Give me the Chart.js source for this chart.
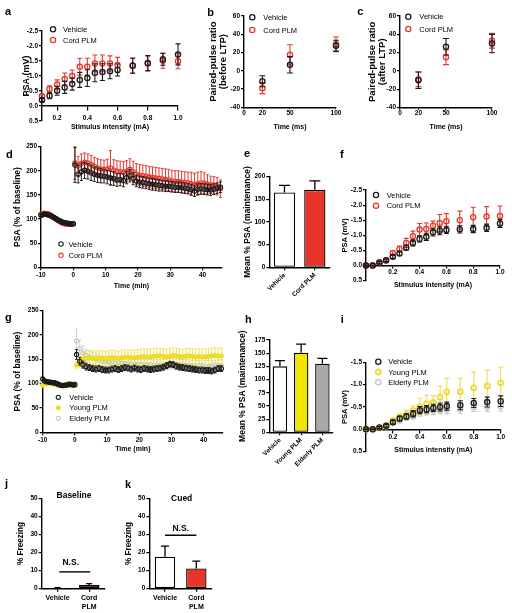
<!DOCTYPE html>
<html>
<head>
<meta charset="utf-8">
<script src="https://cdn.jsdelivr.net/npm/chart.js@4.4.1/dist/chart.umd.min.js"></script>
<style>
  html, body { margin: 0; padding: 0; background: #fff; }
  #stage { position: relative; width: 512px; height: 613px; overflow: hidden; }
  #stage canvas { position: absolute; left: 0; top: 0; }
  .t { position: absolute; font-family: "Liberation Sans", Arial, sans-serif; font-weight: bold; color: #000; white-space: nowrap; line-height: 1; }
</style>
</head>
<body>
<div id="stage"></div>
<script>
// ---- data ----
// a: input/output before treatment
const aX = [0.1, 0.15, 0.2, 0.25, 0.3, 0.35, 0.4, 0.45, 0.5, 0.55, 0.6, 0.7, 0.8, 0.9, 1.0];
const aVehicle = [-0.2, -0.34, -0.51, -0.62, -0.73, -0.87, -0.93, -1.11, -1.13, -1.16, -1.2, -1.34, -1.43, -1.56, -1.72];
const aVehicleErr = [0.05, 0.1, 0.15, 0.2, 0.2, 0.25, 0.28, 0.3, 0.28, 0.25, 0.2, 0.25, 0.25, 0.2, 0.35];
const aCord = [-0.33, -0.57, -0.72, -0.9, -1.0, -1.31, -1.31, -1.42, -1.42, -1.42, -1.37, -1.35, -1.42, -1.51, -1.49];
const aCordErr = [0.05, 0.1, 0.15, 0.2, 0.2, 0.28, 0.28, 0.28, 0.28, 0.25, 0.25, 0.25, 0.25, 0.25, 0.25];

// b, c: paired-pulse ratio
const ppTime = [20, 50, 100];
const bVehicle = [-11.5, 6.5, 27.5];
const bVehicleErr = [6, 9, 6];
const bCord = [-19, 17.5, 29];
const bCordErr = [6, 11, 8];
const cVehicle = [-10, 26.5, 30];
const cVehicleErr = [9, 9, 10];
const cCord = [-9, 15, 33];
const cCordErr = [8, 8, 8];

// d, g: LTP time course
const baseTime = [-10, -9.5, -9, -8.5, -8, -7.5, -7, -6.5, -6, -5.5, -5, -4.5, -4, -3.5, -3, -2.5, -2, -1.5, -1, -0.5, 0];
const postTime = [0.5, 1.5, 2.5, 3.5, 4.5, 5.5, 6.5, 7.5, 8.5, 9.5, 10.5, 11.5, 12.5, 13.5, 14.5, 15.5, 16.5, 17.5, 18.5, 19.5,
  20.5, 21.5, 22.5, 23.5, 24.5, 25.5, 26.5, 27.5, 28.5, 29.5, 30.5, 31.5, 32.5, 33.5, 34.5, 35.5, 36.5, 37.5, 38.5, 39.5,
  40.5, 41.5, 42.5, 43.5, 44.5, 45.5];

const dVehicleBase = [108, 109, 110, 110, 109, 108, 107, 105, 103, 101, 99, 97, 96, 94, 93, 92, 92, 91, 90, 90, 90];
const dCordBase = [110, 111, 112, 111, 111, 110, 108, 106, 103, 101, 98, 96, 94, 92, 91, 90, 89, 89, 89, 90, 91];
const dBaseErr = [3, 3, 3, 3, 3, 3, 3, 3, 3, 3, 3, 3, 3, 3, 3, 3, 3, 3, 3, 3, 3];
const dVehiclePost = [212, 193, 198, 201, 199, 196, 193, 191, 190, 189, 187, 185, 184, 181, 182, 180, 186, 190, 184, 179,
  177, 176, 175, 173, 172, 171, 170, 169, 168, 168, 167, 166, 166, 165, 164, 163, 161, 158, 162, 163,
  162, 161, 160, 162, 164, 166];
const dVehiclePostErr = [36, 18, 18, 17, 16, 16, 15, 15, 15, 14, 14, 14, 14, 13, 13, 13, 13, 13, 13, 12,
  12, 12, 12, 12, 12, 12, 12, 11, 11, 11, 11, 11, 11, 11, 11, 11, 11, 11, 11, 11,
  11, 11, 11, 11, 11, 11];
const dCordPost = [216, 210, 215, 218, 216, 213, 209, 206, 204, 203, 204, 206, 201, 199, 198, 197, 199, 203, 198, 193,
  191, 190, 189, 187, 186, 185, 184, 183, 182, 181, 179, 178, 178, 177, 176, 175, 173, 171, 173, 175,
  174, 172, 171, 170, 168, 163];
const dCordPostErr = [34, 20, 20, 19, 19, 19, 19, 19, 19, 19, 20, 36, 22, 22, 22, 22, 22, 22, 22, 22,
  22, 22, 22, 22, 22, 22, 22, 22, 22, 22, 22, 22, 22, 22, 22, 22, 24, 24, 24, 24,
  22, 20, 18, 18, 18, 18];

const gVehicleBase = [110, 106, 104, 104, 103, 103, 102, 102, 101, 100, 98, 97, 96, 96, 97, 97, 98, 99, 98, 97, 98];
const gYoungBase = [97, 101, 102, 101, 100, 100, 100, 99, 99, 98, 98, 97, 97, 96, 97, 98, 99, 99, 98, 97, 96];
const gElderlyBase = [104, 104, 103, 103, 102, 102, 101, 100, 99, 98, 98, 97, 97, 97, 98, 98, 99, 98, 98, 98, 99];
const gVehicleBaseErr = [3, 3, 3, 3, 3, 3, 3, 3, 3, 3, 3, 3, 3, 3, 3, 3, 3, 3, 3, 3, 3];
const gYoungBaseErr = [4, 4, 4, 4, 4, 4, 4, 4, 4, 4, 4, 4, 4, 4, 4, 4, 4, 4, 4, 4, 4];
const gElderlyBaseErr = [5, 5, 5, 5, 5, 5, 5, 5, 5, 5, 5, 5, 5, 5, 5, 5, 5, 5, 5, 5, 5];
const gVehiclePost = [160, 146, 139, 135, 133, 131, 130, 131, 129, 128, 128, 130, 131, 129, 131, 133, 132, 130, 132, 130,
  129, 131, 130, 129, 130, 131, 132, 134, 137, 140, 139, 136, 134, 133, 132, 131, 130, 129, 128, 128,
  127, 127, 126, 128, 131, 131];
const gVehiclePostErr = [10, 8, 7, 7, 6, 6, 6, 6, 6, 6, 6, 6, 6, 6, 6, 6, 6, 6, 6, 6,
  6, 6, 6, 6, 6, 6, 6, 6, 6, 6, 6, 6, 6, 6, 6, 6, 6, 6, 6, 6,
  6, 6, 6, 6, 6, 6];
const gYoungPost = [138, 145, 150, 152, 152, 153, 152, 153, 152, 152, 153, 154, 153, 152, 153, 154, 154, 153, 153, 154,
  155, 156, 155, 155, 156, 157, 157, 156, 155, 156, 158, 157, 156, 155, 156, 157, 156, 155, 156, 155,
  155, 156, 157, 158, 157, 157];
const gYoungPostErr = [8, 12, 14, 15, 15, 15, 15, 15, 15, 15, 15, 15, 15, 15, 16, 16, 16, 16, 16, 16,
  16, 16, 16, 16, 16, 16, 16, 16, 16, 16, 16, 16, 16, 16, 16, 16, 16, 16, 16, 16,
  16, 16, 16, 16, 16, 16];
const gElderlyPost = [188, 172, 163, 158, 155, 152, 150, 148, 146, 145, 144, 144, 143, 143, 142, 142, 141, 141, 140, 140,
  140, 139, 139, 139, 138, 138, 138, 139, 140, 141, 141, 140, 139, 139, 138, 138, 137, 137, 137, 137,
  136, 136, 136, 137, 138, 138];
const gElderlyPostErr = [24, 18, 15, 13, 12, 12, 11, 11, 11, 11, 11, 11, 11, 11, 11, 11, 11, 11, 11, 11,
  11, 11, 11, 11, 11, 11, 11, 11, 11, 11, 11, 11, 11, 11, 11, 11, 11, 11, 11, 11,
  11, 11, 11, 11, 11, 11];

// e, h: maintenance bars
const eLabels = ['Vehicle', 'Cord PLM'];
const eMeans = [165, 171];
const eErr = [16, 20];
const hLabels = ['Vehicle', 'Young PLM', 'Elderly PLM'];
const hMeans = [125, 151, 130];
const hErr = [11, 16, 10];

// f, i: input/output after treatment
const ioX = [0, 0.05, 0.1, 0.15, 0.2, 0.25, 0.3, 0.35, 0.4, 0.45, 0.5, 0.55, 0.6, 0.7, 0.8, 0.9, 1.0];
const fVehicle = [0, 0, -0.1, -0.18, -0.29, -0.4, -0.59, -0.75, -0.88, -0.95, -1.1, -1.15, -1.18, -1.2, -1.21, -1.25, -1.39];
const fVehicleErr = [0.02, 0.02, 0.03, 0.04, 0.05, 0.06, 0.08, 0.1, 0.1, 0.12, 0.12, 0.13, 0.12, 0.12, 0.12, 0.12, 0.13];
const fCord = [0, 0, -0.1, -0.17, -0.42, -0.55, -0.75, -0.97, -1.19, -1.21, -1.32, -1.41, -1.47, -1.5, -1.6, -1.62, -1.64];
const fCordErr = [0.02, 0.02, 0.03, 0.04, 0.08, 0.1, 0.15, 0.17, 0.2, 0.2, 0.15, 0.28, 0.25, 0.3, 0.33, 0.33, 0.33];
const iVehicle = [0, 0, -0.04, -0.08, -0.16, -0.24, -0.29, -0.35, -0.43, -0.45, -0.48, -0.5, -0.52, -0.54, -0.59, -0.61, -0.63];
const iVehicleErr = [0.01, 0.01, 0.02, 0.03, 0.04, 0.05, 0.06, 0.07, 0.08, 0.08, 0.08, 0.09, 0.09, 0.1, 0.1, 0.11, 0.12];
const iYoung = [0, 0, -0.03, -0.08, -0.2, -0.27, -0.33, -0.42, -0.5, -0.57, -0.6, -0.72, -0.84, -0.84, -0.93, -0.97, -1.04];
const iYoungErr = [0.01, 0.01, 0.02, 0.03, 0.05, 0.08, 0.1, 0.1, 0.2, 0.2, 0.15, 0.25, 0.3, 0.3, 0.35, 0.35, 0.35];
const iElderly = [0, 0, -0.03, -0.07, -0.15, -0.2, -0.26, -0.3, -0.38, -0.4, -0.42, -0.44, -0.45, -0.46, -0.5, -0.5, -0.52];
const iElderlyErr = [0.01, 0.01, 0.02, 0.03, 0.04, 0.05, 0.06, 0.07, 0.08, 0.08, 0.09, 0.09, 0.1, 0.1, 0.1, 0.1, 0.11];

// j, k: freezing
const fzLabels = ['Vehicle', ['Cord', 'PLM']];
const jMeans = [0.4, 2.0];
const jErr = [0.2, 0.8];
const kMeans = [17.7, 11.2];
const kErr = [5.8, 4];

// tick values
const ioTicksX = [0.2, 0.4, 0.6, 0.8, 1.0];
const ioTicksYa = [-2.5, -2, -1.5, -1, -0.5, 0, 0.5];
const ioTicksYi = [-1.5, -1, -0.5, 0, 0.5];
const ppTicksX = [0, 20, 50, 100];
const ppTicksY = [-40, -20, 0, 20, 40, 60];
const ltpTicksX = [-10, 0, 10, 20, 30, 40];
const ltpTicksY = [0, 50, 100, 150, 200, 250];
const eTicksY = [0, 50, 100, 150, 200];
const hTicksY = [0, 25, 50, 75, 100, 125, 150, 175];
const fzTicksY = [0, 10, 20, 30, 40, 50];

// ---- setup ----
const W = 512, H = 613;
const FONT = '"Liberation Sans", Arial, Helvetica, sans-serif';
const RED = '#e5392e';
Chart.defaults.font.family = FONT;
Chart.defaults.color = '#000';
Chart.defaults.animation = false;
Chart.defaults.plugins.legend.display = false;
Chart.defaults.plugins.tooltip.enabled = false;

// error bars drawn under each dataset's own marks
const errorBars = {
  id: 'errorBars',
  beforeDatasetDraw(chart, args) {
    const ds = chart.data.datasets[args.index];
    if (!ds.err) return;
    const ys = chart.scales[args.meta.yAxisID];
    const ctx = chart.ctx;
    const cap = ds.cap || 2;
    ctx.save();
    ctx.strokeStyle = ds.errColor || ds.borderColor;
    ctx.lineWidth = ds.errWidth || 1;
    args.meta.data.forEach((el, i) => {
      const e = ds.err[i];
      if (!e) return;
      const raw = ds.data[i];
      const v = typeof raw === 'object' ? raw.y : raw;
      const hi = ys.getPixelForValue(v + e);
      const lo = ds.errUp ? ys.getPixelForValue(v) : ys.getPixelForValue(v - e);
      ctx.beginPath();
      ctx.moveTo(el.x, lo);
      ctx.lineTo(el.x, hi);
      ctx.moveTo(el.x - cap, hi);
      ctx.lineTo(el.x + cap, hi);
      if (!ds.errUp) {
        ctx.moveTo(el.x - cap, lo);
        ctx.lineTo(el.x + cap, lo);
      }
      ctx.stroke();
    });
    ctx.restore();
  }
};

// small legend with the series' own markers
const markLegend = {
  id: 'markLegend',
  afterDraw(chart, args, o) {
    if (o.x === undefined) return;
    const ctx = chart.ctx;
    ctx.save();
    chart.data.datasets.forEach((ds, i) => {
      const y = o.y + i * o.dy;
      ctx.beginPath();
      ctx.arc(o.x, y, ds.pointRadius, 0, Math.PI * 2);
      ctx.fillStyle = ds.pointBackgroundColor;
      ctx.fill();
      ctx.lineWidth = ds.pointBorderWidth;
      ctx.strokeStyle = ds.pointBorderColor;
      ctx.stroke();
      ctx.fillStyle = '#000';
      ctx.font = (o.size || 7.5) + 'px ' + FONT;
      ctx.textBaseline = 'middle';
      ctx.fillText(ds.label, o.x + o.gap, y + 0.5);
    });
    ctx.restore();
  }
};

// N.S. line between the two bars
const sigLine = {
  id: 'sigLine',
  afterDraw(chart, args, o) {
    if (o.value === undefined) return;
    const xs = chart.scales.x, ys = chart.scales.y, ctx = chart.ctx;
    const y = ys.getPixelForValue(o.value);
    const x1 = xs.getPixelForValue(0) + o.from;
    const x2 = xs.getPixelForValue(1) + o.to;
    ctx.save();
    ctx.strokeStyle = '#000';
    ctx.lineWidth = 1.4;
    ctx.beginPath();
    ctx.moveTo(x1, y);
    ctx.lineTo(x2, y);
    ctx.stroke();
    ctx.fillStyle = '#000';
    ctx.font = 'bold 8.5px ' + FONT;
    ctx.textAlign = 'center';
    ctx.fillText(o.text, (x1 + x2) / 2 + o.dx, y - o.gap);
    ctx.restore();
  }
};

Chart.register(errorBars, markLegend, sigLine);

const stage = document.getElementById('stage');

function addCanvas() {
  const c = document.createElement('canvas');
  c.width = W;
  c.height = H;
  c.style.width = W + 'px';
  c.style.height = H + 'px';
  stage.appendChild(c);
  return c;
}

// padding so the plot area lands on [L, T, R, B]
function pad(area, yW, xH) {
  return { left: area[0] - yW, top: area[1], right: W - area[2], bottom: H - area[3] - xH };
}

function axis(o) {
  const ticks = {
    color: '#000', padding: o.pad ?? 1, autoSkip: false,
    minRotation: o.rot || 0, maxRotation: o.rot || 0,
    font: { size: o.tickSize || 6.5, weight: 'bold', lineHeight: o.tickLH || 1.2 }
  };
  if (o.fmt) ticks.callback = o.fmt;
  const ax = {
    type: o.type || 'linear',
    position: o.position,
    reverse: !!o.reverse,
    offset: o.type === 'category',
    afterFit: s => { if (s.isHorizontal()) s.height = o.size; else s.width = o.size; },
    grid: { drawOnChartArea: false, offset: false, color: '#000', lineWidth: 1.2, tickLength: o.tl ?? 3 },
    border: { color: '#000', width: 1.4 },
    ticks,
    title: {
      display: !!o.title, text: o.title, color: '#000', padding: 0,
      font: { size: o.titleSize || 7, weight: 'bold', lineHeight: o.titleLH || 1.2 }
    }
  };
  if (o.min !== undefined) ax.min = o.min;
  if (o.max !== undefined) ax.max = o.max;
  if (o.ticksAt) ax.afterBuildTicks = s => { s.ticks = o.ticksAt.map(v => ({ value: v })); };
  return ax;
}

function series(label, xs, ys, err, st) {
  const fill = st.fill || 'rgba(0,0,0,0)';
  return {
    label,
    data: xs.map((x, i) => ({ x, y: ys[i] })),
    err,
    pointRadius: st.r, pointBorderWidth: st.bw, pointBorderColor: st.c, pointBackgroundColor: fill,
    borderColor: st.c, backgroundColor: fill,
    errColor: st.ec || st.c, errWidth: st.ew || 1.1, cap: st.cap || 2.5,
    order: st.order || 1, clip: false, showLine: false
  };
}

function scatterChart(p) {
  // an x axis pinned at y = 0 takes no room at the bottom
  const xRoom = typeof p.x.position === 'object' ? 0 : p.x.size;
  return new Chart(addCanvas(), {
    type: 'scatter',
    data: { datasets: p.sets },
    options: {
      responsive: false, devicePixelRatio: 1,
      layout: { padding: pad(p.area, p.y.size, xRoom) },
      scales: { x: axis(p.x), y: axis(p.y) },
      plugins: { markLegend: p.legend || {} }
    }
  });
}

function barChart(p) {
  return new Chart(addCanvas(), {
    type: 'bar',
    data: {
      labels: p.labels,
      datasets: [{
        data: p.values, err: p.err, errUp: true,
        backgroundColor: p.colors, borderColor: '#000', borderWidth: 1.3, borderSkipped: false,
        barPercentage: p.bp, categoryPercentage: 1, errWidth: 1.3, cap: p.cap
      }]
    },
    options: {
      responsive: false, devicePixelRatio: 1,
      layout: { padding: pad(p.area, p.y.size, p.x.size) },
      scales: { x: axis(p.x), y: axis(p.y) },
      plugins: { sigLine: p.sig || {} }
    }
  });
}

const fmt1 = v => v.toFixed(1);
const fmt0 = v => String(v);
const blackMark = { c: '#1a1a1a', r: 2.6, bw: 1.3, cap: 2.5 };
const redMark = { c: RED, r: 2.6, bw: 1.3, cap: 2.5, order: 2 };

// a
scatterChart({
  area: [42, 31, 178, 121],
  x: { min: 0.1, max: 1.0, ticksAt: ioTicksX, fmt: fmt1, position: { y: 0 }, size: 25.2, tl: 4, pad: 4, title: 'Stimulus intensity (mA)' },
  y: { min: -2.5, max: 0.5, reverse: true, ticksAt: ioTicksYa, fmt: fmt1, size: 20.4, tl: 3, pad: 1, title: 'PSA (mV)', titleSize: 9 },
  sets: [
    series('Vehicle', aX, aVehicle, aVehicleErr, blackMark),
    series('Cord PLM', aX, aCord, aCordErr, redMark)
  ],
  legend: { x: 53, y: 29.3, dy: 10.7, gap: 10 }
});

// b
scatterChart({
  area: [244, 16, 336, 107.3],
  x: { min: 0, max: 100, ticksAt: ppTicksX, fmt: fmt0, position: 'bottom', size: 23.6, tl: 2, pad: 0, title: 'Time (ms)' },
  y: { min: -40, max: 60, ticksAt: ppTicksY, fmt: fmt0, size: 36, tl: 3, pad: 1, title: ['Paired-pulse ratio', '(before LTP)'], titleSize: 9.5, titleLH: 1.05 },
  sets: [
    series('Vehicle', ppTime, bVehicle, bVehicleErr, { c: '#1a1a1a', r: 2.6, bw: 1.3, cap: 3 }),
    series('Cord PLM', ppTime, bCord, bCordErr, { c: RED, r: 2.6, bw: 1.3, cap: 3, order: 2 })
  ],
  legend: { x: 252.3, y: 17.3, dy: 12.7, gap: 11 }
});

// c
scatterChart({
  area: [400, 16, 492, 107.7],
  x: { min: 0, max: 100, ticksAt: ppTicksX, fmt: fmt0, position: 'bottom', size: 23.4, tl: 2, pad: 0, title: 'Time (ms)' },
  y: { min: -40, max: 60, ticksAt: ppTicksY, fmt: fmt0, size: 33, tl: 3, pad: 1, title: ['Paired-pulse ratio', '(after LTP)'], titleSize: 9.5, titleLH: 1.05 },
  sets: [
    series('Vehicle', ppTime, cVehicle, cVehicleErr, { c: '#1a1a1a', r: 2.6, bw: 1.3, cap: 3 }),
    series('Cord PLM', ppTime, cCord, cCordErr, { c: RED, r: 2.6, bw: 1.3, cap: 3, order: 2 })
  ],
  legend: { x: 408.3, y: 16.7, dy: 12.3, gap: 11 }
});

// d
scatterChart({
  area: [41, 146.7, 222, 267.3],
  x: { min: -10, max: 46, ticksAt: ltpTicksX, fmt: fmt0, position: 'bottom', size: 22.6, tl: 3, pad: 1.5, title: 'Time (min)' },
  y: { min: 0, max: 250, ticksAt: ltpTicksY, fmt: fmt0, size: 28.1, tl: 3, pad: 1, title: 'PSA (% of baseline)', titleSize: 8.5 },
  sets: [
    series('Vehicle', baseTime.concat(postTime), dVehicleBase.concat(dVehiclePost), dBaseErr.concat(dVehiclePostErr),
      { c: '#1a1a1a', r: 2.2, bw: 1.1, cap: 1.5, ew: 1 }),
    series('Cord PLM', baseTime.concat(postTime), dCordBase.concat(dCordPost), dBaseErr.concat(dCordPostErr),
      { c: RED, r: 2.2, bw: 1.1, cap: 1.5, ew: 1, order: 2 })
  ],
  legend: { x: 61, y: 244, dy: 11.3, gap: 7.5 }
});

// e
barChart({
  area: [269.3, 176.7, 330, 267.3],
  labels: eLabels, values: eMeans, err: eErr, colors: ['#ffffff', '#e8352b'], bp: 0.7, cap: 5.5,
  x: { type: 'category', size: 45, rot: 45, tl: 3, pad: 1 },
  y: { min: 0, max: 200, ticksAt: eTicksY, fmt: fmt0, size: 26.4, tl: 3, pad: 1, title: 'Mean % PSA (maintenance)', titleSize: 8.5 }
});

// f
scatterChart({
  area: [366, 190, 500, 280.7],
  x: { min: 0, max: 1.0, ticksAt: ioTicksX, fmt: fmt1, position: { y: 0 }, size: 23.9, tl: 2, pad: 1, title: 'Stimulus intensity (mA)' },
  y: { min: -2.5, max: 0.5, reverse: true, ticksAt: ioTicksYa, fmt: fmt1, size: 25.5, tl: 3, pad: 1, title: 'PSA (mV)', titleSize: 7.5 },
  sets: [
    series('Vehicle', ioX, fVehicle, fVehicleErr, blackMark),
    series('Cord PLM', ioX, fCord, fCordErr, redMark)
  ],
  legend: { x: 376, y: 195, dy: 10.7, gap: 10.7 }
});

// g
scatterChart({
  area: [42.7, 310.7, 223, 432.3],
  x: { min: -10, max: 46, ticksAt: ltpTicksX, fmt: fmt0, position: 'bottom', size: 20.9, tl: 3, pad: 1, title: 'Time (min)' },
  y: { min: 0, max: 250, ticksAt: ltpTicksY, fmt: fmt0, size: 29.8, tl: 3, pad: 1, title: 'PSA (% of baseline)', titleSize: 8.5 },
  sets: [
    series('Vehicle', baseTime.concat(postTime), gVehicleBase.concat(gVehiclePost), gVehicleBaseErr.concat(gVehiclePostErr),
      { c: '#1a1a1a', r: 2.1, bw: 1.1, cap: 1.5, ew: 1 }),
    series('Young PLM', baseTime.concat(postTime), gYoungBase.concat(gYoungPost), gYoungBaseErr.concat(gYoungPostErr),
      { c: '#ecd81c', fill: '#f1df2a', r: 2.1, bw: 1, cap: 1.5, ew: 1, ec: '#f2e45e', order: 2 }),
    series('Elderly PLM', baseTime.concat(postTime), gElderlyBase.concat(gElderlyPost), gElderlyBaseErr.concat(gElderlyPostErr),
      { c: '#b9b9b9', r: 2.1, bw: 1, cap: 1.5, ew: 1, ec: '#d0d0d0', order: 3 })
  ],
  legend: { x: 58.3, y: 397.3, dy: 10.5, gap: 11 }
});

// h
barChart({
  area: [269.3, 340, 333, 432.3],
  labels: hLabels, values: hMeans, err: hErr, colors: ['#ffffff', '#f2e600', '#a9a9a9'], bp: 0.68, cap: 5,
  x: { type: 'category', size: 50, rot: 45, tl: 3, pad: 1 },
  y: { min: 0, max: 175, ticksAt: hTicksY, fmt: fmt0, size: 31.4, tl: 3, pad: 1, title: 'Mean % PSA (maintenance)', titleSize: 8.5 }
});

// i
scatterChart({
  area: [366, 362.3, 500.7, 451.7],
  x: { min: 0, max: 1.0, ticksAt: ioTicksX, fmt: fmt1, position: { y: 0 }, size: 24.5, tl: 3, pad: 1, title: 'Stimulus intensity (mA)' },
  y: { min: -1.5, max: 0.5, reverse: true, ticksAt: ioTicksYi, fmt: fmt1, size: 25.5, tl: 3, pad: 1, title: 'PSA (mV)', titleSize: 7.5 },
  sets: [
    series('Vehicle', ioX, iVehicle, iVehicleErr, blackMark),
    series('Young PLM', ioX, iYoung, iYoungErr, { c: '#ecd932', r: 2.6, bw: 1.6, cap: 2.5, ec: '#eedd55', order: 2 }),
    series('Elderly PLM', ioX, iElderly, iElderlyErr, { c: '#c4c4c4', r: 2.6, bw: 1.3, cap: 2.5, order: 3 })
  ],
  legend: { x: 378.3, y: 361.7, dy: 10.3, gap: 10 }
});

// j
barChart({
  area: [41.7, 498.3, 105, 588.7],
  labels: fzLabels, values: jMeans, err: jErr, colors: ['#ffffff', '#e8352b'], bp: 0.65, cap: 3,
  x: { type: 'category', size: 24, tl: 3, pad: 1, tickSize: 7, tickLH: 1.4 },
  y: { min: 0, max: 50, ticksAt: fzTicksY, fmt: fmt0, size: 25.9, tl: 3, pad: 1, title: '% Freezing', titleSize: 8.2 },
  sig: { value: 9.3, from: 1.8, to: 1, text: 'N.S.', gap: 6.7, dx: -4 }
});

// k
barChart({
  area: [149.3, 498.3, 212, 588.7],
  labels: fzLabels, values: kMeans, err: kErr, colors: ['#ffffff', '#e8352b'], bp: 0.65, cap: 4,
  x: { type: 'category', size: 24, tl: 3, pad: 1, tickSize: 7, tickLH: 1.4 },
  y: { min: 0, max: 50, ticksAt: fzTicksY, fmt: fmt0, size: 25.9, tl: 3, pad: 1, title: '% Freezing', titleSize: 8.2 },
  sig: { value: 29.6, from: 0, to: 0, text: 'N.S.', gap: 4, dx: 0 }
});

// ---- panel letters and titles ----
function note(text, x, base, size, center) {
  const d = document.createElement('div');
  d.className = 't';
  d.textContent = text;
  d.style.fontSize = size + 'px';
  d.style.top = (base - 0.8465 * size) + 'px';
  d.style.left = x + 'px';
  if (center) d.style.transform = 'translateX(-50%)';
  stage.appendChild(d);
}

note('a', 5, 15, 11);
note('b', 207.3, 16, 11);
note('c', 357.3, 15.5, 11);
note('d', 6, 158.3, 11);
note('e', 244, 157.5, 11);
note('f', 340, 158, 11);
note('g', 5, 321.7, 11);
note('h', 245, 323, 11);
note('i', 340.7, 323, 11);
note('j', 5, 487.3, 11);
note('k', 125, 488.7, 11);
note('Baseline', 74, 498, 8.5, true);
note('Cued', 181.7, 501, 8.5, true);
</script>
</body>
</html>
